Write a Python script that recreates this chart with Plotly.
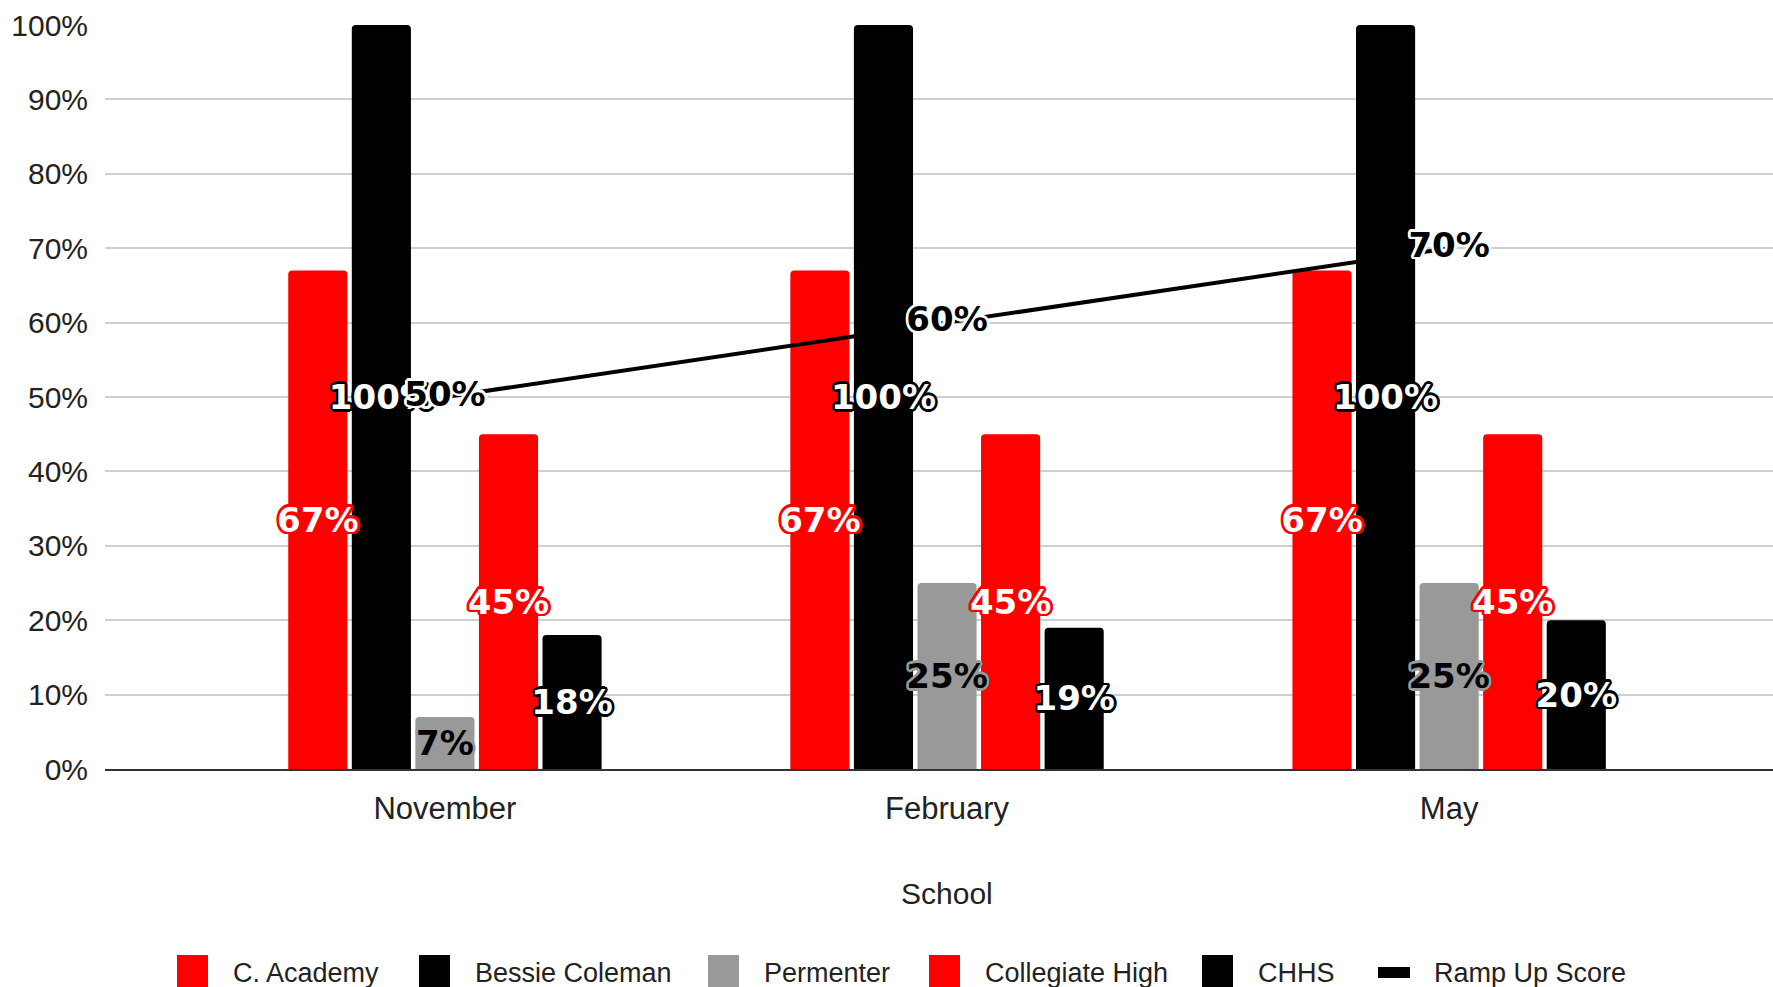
import math
import plotly.graph_objects as go

months = ["November", "February", "May"]
c_academy = [0.67, 0.67, 0.67]
bessie_coleman = [1.00, 1.00, 1.00]
permenter = [0.07, 0.25, 0.25]
collegiate_high = [0.45, 0.45, 0.45]
chhs = [0.18, 0.19, 0.20]
ramp_up = [0.50, 0.60, 0.70]
x_title = "School"

series = [
    ("C. Academy", c_academy, "#ff0000", "white"),
    ("Bessie Coleman", bessie_coleman, "#000000", "white"),
    ("Permenter", permenter, "#999999", "black"),
    ("Collegiate High", collegiate_high, "#ff0000", "white"),
    ("CHHS", chhs, "#000000", "white"),
]
line_name = "Ramp Up Score"


def outline(color, r=2.6, n=16):
    offs = []
    for k in range(n):
        a = 2 * math.pi * k / n
        offs.append(f"{r*math.cos(a):.2f}px {r*math.sin(a):.2f}px 0 {color}")
    offs.append(f"0 0 1px {color}")
    return ", ".join(offs)


LABEL_FONT = "DejaVu Sans"
LABEL_SIZE = 34
AX_FAMILY = "Liberation Sans, Arial, sans-serif"

fig = go.Figure()
# bars
for name, vals, col, txtcol in series:
    fig.add_trace(go.Bar(
        x=months, y=vals, name=name,
        marker=dict(color=col, cornerradius=4, line=dict(width=0)),
        hoverinfo="skip", showlegend=False, xaxis="x", yaxis="y",
    ))
# data labels on an overlaying axis so they sit above every bar
for name, vals, col, txtcol in series:
    fig.add_trace(go.Bar(
        x=months, y=vals, name=name + " labels",
        marker=dict(color="rgba(0,0,0,0)", line=dict(width=0)),
        texttemplate="%{y:.0%}",
        textposition="inside",
        insidetextanchor="middle",
        textangle=0,
        constraintext="none",
        cliponaxis=False,
        textfont=dict(family=LABEL_FONT, size=LABEL_SIZE, color=txtcol,
                      weight="bold", shadow=outline(col)),
        hoverinfo="skip", showlegend=False, xaxis="x2", yaxis="y",
    ))

fig.add_trace(go.Scatter(
    x=months, y=ramp_up, name=line_name,
    mode="lines+text",
    line=dict(color="black", width=4),
    texttemplate="%{y:.0%}",
    textposition="middle center",
    cliponaxis=False,
    textfont=dict(family=LABEL_FONT, size=LABEL_SIZE, color="black",
                  weight="bold", shadow=outline("white")),
    showlegend=False, xaxis="x2", yaxis="y",
))

axis_font = dict(family=AX_FAMILY, size=30, color="#222222")
xtick_font = dict(family=AX_FAMILY, size=31, color="#222222")

# ---- custom legend (large swatches as in the reference) ----
L, T, W, H = 105, 25, 1668, 744  # plot area in pixels
def px_x(p):
    return (p - L) / W
def px_y(p):
    return (T + H - p) / H

legend_swatch_x = [177, 419, 708, 929, 1202, 1378]  # swatch left edges (px)
legend_items = [(s[0], s[2], "box") for s in series] + [(line_name, "#000000", "line")]
shapes = []
annotations = []
for (name, col, kind), x0 in zip(legend_items, legend_swatch_x):
    if kind == "box":
        shapes.append(dict(type="rect", xref="paper", yref="paper",
                           x0=px_x(x0), x1=px_x(x0 + 31), y0=px_y(955), y1=px_y(995),
                           fillcolor=col, line=dict(width=0)))
    else:
        shapes.append(dict(type="rect", xref="paper", yref="paper",
                           x0=px_x(x0), x1=px_x(x0 + 32), y0=px_y(967), y1=px_y(978),
                           fillcolor=col, line=dict(width=0)))
    annotations.append(dict(text=name, xref="paper", yref="paper",
                            x=px_x(x0 + 54), y=px_y(973), xanchor="left", yanchor="middle",
                            showarrow=False,
                            font=dict(family=AX_FAMILY, size=27, color="#222222")))

# axis title, centred under the middle category as in the reference
annotations.append(dict(text=x_title, xref="paper", yref="paper",
                        x=px_x(947), y=px_y(893), xanchor="center", yanchor="middle",
                        showarrow=False, font=axis_font))

XRANGE = [-0.677, 2.645]
fig.update_layout(
    width=1773, height=987,
    margin=dict(l=L, r=1773 - L - W, t=T, b=987 - T - H, autoexpand=False),
    paper_bgcolor="white", plot_bgcolor="white",
    barmode="group", bargap=0.367, bargroupgap=0.07,
    uniformtext=dict(minsize=LABEL_SIZE, mode="show"),
    font=axis_font,
    showlegend=False,
    shapes=shapes,
    annotations=annotations,
    xaxis=dict(
        range=XRANGE, automargin=False,
        showline=True, linecolor="#333333", linewidth=2,
        showgrid=False, ticks="", ticklabelstandoff=11,
        tickfont=xtick_font,
    ),
    xaxis2=dict(
        range=XRANGE, overlaying="x", visible=False, automargin=False,
    ),
    yaxis=dict(
        range=[0, 1], dtick=0.1, tickformat=".0%", automargin=False,
        showgrid=True, gridcolor="#cfcfcf", gridwidth=2,
        zeroline=False, showline=False, ticks="",
        ticklabelstandoff=16, tickfont=axis_font,
    ),
)

fig.write_html(
    "out.html",
    config={"displayModeBar": False},
    post_script="document.body.style.margin='0';document.body.style.overflow='hidden';",
)
